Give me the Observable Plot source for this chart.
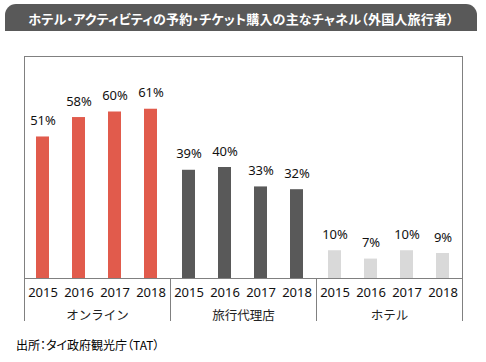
<!DOCTYPE html>
<html><head><meta charset="utf-8">
<script src="https://cdn.jsdelivr.net/npm/d3@7"></script>
<script src="https://cdn.jsdelivr.net/npm/@observablehq/plot@0.6"></script>
<style>
body{margin:0;background:#fff;width:486px;height:362px;overflow:hidden;font-family:"Noto Sans CJK JP",sans-serif;}
#title{position:absolute;left:5px;top:4px;width:472px;height:27px;background:#595959;border-radius:11px 11px 0 0;color:#fff;font-size:13px;font-weight:bold;text-align:center;line-height:30px;font-feature-settings:"palt";white-space:nowrap;letter-spacing:0.2px;}
#chart{position:absolute;left:0;top:31px;}
#source{position:absolute;left:16px;top:336px;font-size:12px;color:#000;font-feature-settings:"palt";white-space:nowrap;}
</style></head>
<body>
<div id="title">ホテル・アクティビティの予約・チケット購入の主なチャネル（外国人旅行者）</div>
<div id="chart"></div>
<div id="source">出所：タイ政府観光庁（TAT）</div>
<script>
const channels = ["オンライン", "旅行代理店", "ホテル"];
const years = ["2015", "2016", "2017", "2018"];
const online = [51, 58, 60, 61];
const agency = [39, 40, 33, 32];
const hotel = [10, 7, 10, 9];
const colors = ["#E15B4C", "#595959", "#D9D9D9"];

const series = [online, agency, hotel];
const table = channels.flatMap((c, i) => years.map((y, j) => ({channel: c, year: y, value: series[i][j]})));

const lineColor = "#808080";
const chart = Plot.plot({
  width: 486,
  height: 299,
  marginTop: 25,
  marginLeft: 24,
  marginRight: 24,
  marginBottom: 52,
  style: {fontFamily: "'Noto Sans', sans-serif", fontSize: "13px", color: "#111", background: "transparent"},
  fx: {domain: channels, padding: 0, label: null},
  x: {domain: years, paddingInner: 0.63, paddingOuter: 0.315, label: null},
  y: {domain: [0, 80], axis: null},
  color: {domain: channels, range: colors},
  marks: [
    Plot.barY(table, {fx: "channel", x: "year", y: "value", fill: "channel"}),
    Plot.text(table, {fx: "channel", x: "year", y: "value", text: d => d.value + "%", dy: -16, fontSize: 13, fill: "#111"}),
    Plot.axisX({anchor: "bottom", tickSize: 0, tickPadding: 9, label: null, fontSize: 13, fill: "#111"}),
    Plot.axisFx({anchor: "bottom", tickSize: 0, tickPadding: 33, label: null, fontSize: 12.5, fontFamily: "'Noto Sans CJK JP', sans-serif", fill: "#222"}),
    Plot.frame({facet: "super", stroke: lineColor}),
    Plot.frame({anchor: "left", insetTop: 222, insetBottom: -42, stroke: lineColor}),
    Plot.frame({facet: "super", anchor: "right", insetTop: 222, insetBottom: -42, stroke: lineColor})
  ]
});
document.getElementById("chart").appendChild(chart);
</script>
</body></html>
